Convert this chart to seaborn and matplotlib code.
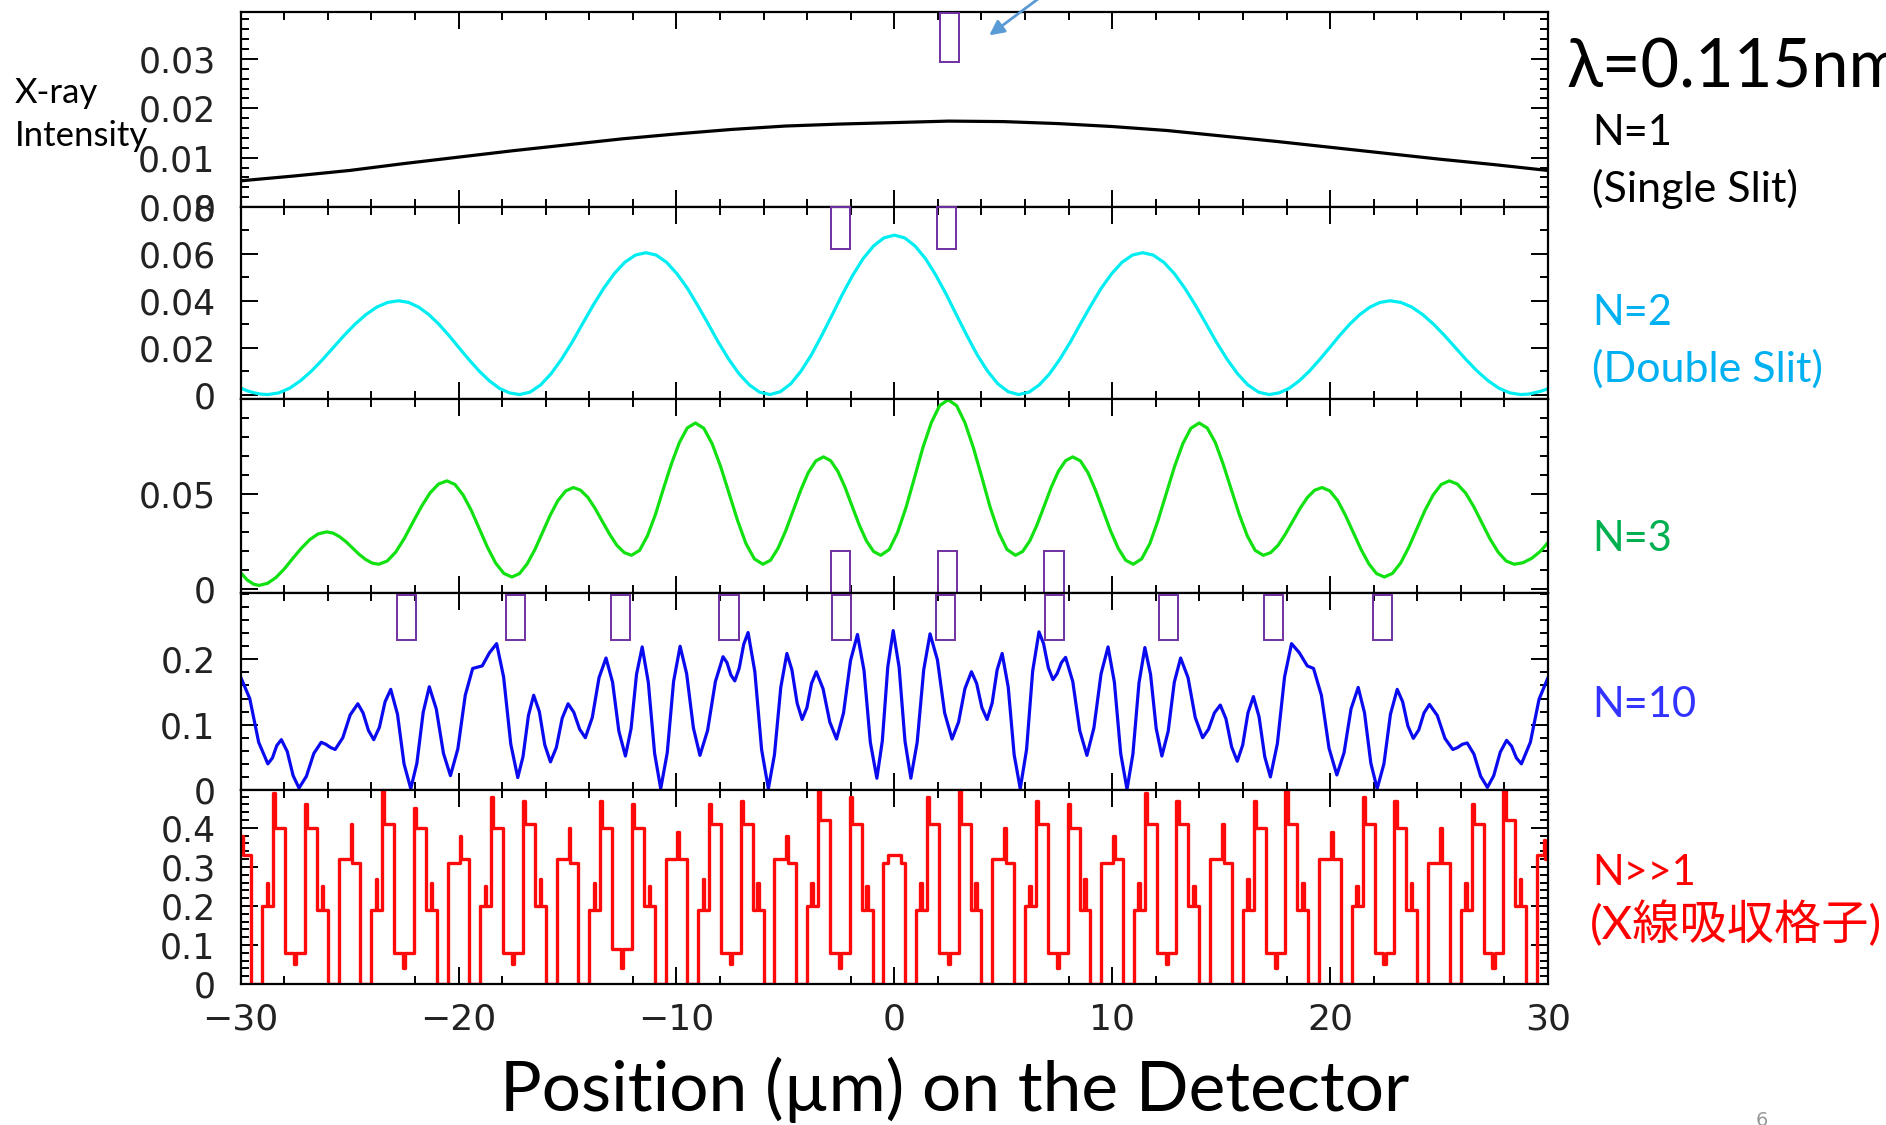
import numpy as np
import pandas as pd
import seaborn as sns
import matplotlib.pyplot as plt
import matplotlib.transforms as mtransforms
from matplotlib.patches import Rectangle
from matplotlib.ticker import MultipleLocator, FixedLocator, FuncFormatter

# ---- data (x in um, y = intensity) ----
n1_x = [-30, -27.5, -25, -22.5, -20, -17.5, -15, -12.5, -10, -7.5, -5, -2.5, 0, 2.5,
        5, 7.5, 10, 12.5, 15, 17.5, 20, 22.5, 25, 27.5, 30]
n1_y = [0.0053, 0.0063, 0.0074, 0.0088, 0.0101, 0.0114, 0.0126, 0.0138, 0.0148, 0.0157,
        0.0164, 0.0168, 0.0171, 0.0174, 0.0173, 0.0169, 0.0163, 0.0155, 0.0144, 0.0133,
        0.0121, 0.0109, 0.0097, 0.0086, 0.0074]

n2_pts = [
    (-30.00, 0.0028), (-29.70, 0.0016), (-29.40, 0.0008), (-29.10, 0.0002), (-28.75, 0.0000),
    (-28.25, 0.0007), (-27.75, 0.0027), (-27.25, 0.0059), (-26.75, 0.0100), (-26.25, 0.0148), (-25.75, 0.0200),
    (-25.25, 0.0252), (-24.75, 0.0300), (-24.25, 0.0341), (-23.75, 0.0373), (-23.25, 0.0393), (-22.75, 0.0400),
    (-22.29, 0.0393), (-21.83, 0.0373), (-21.36, 0.0341), (-20.90, 0.0300), (-20.44, 0.0252), (-19.98, 0.0200),
    (-19.51, 0.0148), (-19.05, 0.0100), (-18.59, 0.0059), (-18.13, 0.0027), (-17.66, 0.0007), (-17.20, 0.0000),
    (-16.72, 0.0010), (-16.23, 0.0041), (-15.75, 0.0089), (-15.27, 0.0151), (-14.78, 0.0224), (-14.30, 0.0303),
    (-13.82, 0.0381), (-13.33, 0.0454), (-12.85, 0.0516), (-12.37, 0.0564), (-11.88, 0.0595), (-11.40, 0.0605),
    (-10.93, 0.0595), (-10.45, 0.0564), (-9.98, 0.0516), (-9.50, 0.0454), (-9.03, 0.0381), (-8.55, 0.0303),
    (-8.08, 0.0224), (-7.60, 0.0151), (-7.13, 0.0089), (-6.65, 0.0041), (-6.18, 0.0010), (-5.70, 0.0000),
    (-5.23, 0.0012), (-4.75, 0.0046), (-4.28, 0.0100), (-3.80, 0.0170), (-3.33, 0.0252), (-2.85, 0.0340),
    (-2.38, 0.0428), (-1.90, 0.0510), (-1.43, 0.0580), (-0.95, 0.0634), (-0.48, 0.0668), (0.00, 0.0680),
    (0.48, 0.0668), (0.95, 0.0634), (1.43, 0.0580), (1.90, 0.0510), (2.38, 0.0428), (2.85, 0.0340),
    (3.33, 0.0252), (3.80, 0.0170), (4.28, 0.0100), (4.75, 0.0046), (5.23, 0.0012), (5.70, 0.0000),
    (6.18, 0.0010), (6.65, 0.0041), (7.13, 0.0089), (7.60, 0.0151), (8.08, 0.0224), (8.55, 0.0303),
    (9.03, 0.0381), (9.50, 0.0454), (9.98, 0.0516), (10.45, 0.0564), (10.93, 0.0595), (11.40, 0.0605),
    (11.88, 0.0595), (12.37, 0.0564), (12.85, 0.0516), (13.33, 0.0454), (13.82, 0.0381), (14.30, 0.0303),
    (14.78, 0.0224), (15.27, 0.0151), (15.75, 0.0089), (16.23, 0.0041), (16.72, 0.0010), (17.20, 0.0000),
    (17.66, 0.0007), (18.13, 0.0027), (18.59, 0.0059), (19.05, 0.0100), (19.51, 0.0148), (19.98, 0.0200),
    (20.44, 0.0252), (20.90, 0.0300), (21.36, 0.0341), (21.83, 0.0373), (22.29, 0.0393), (22.75, 0.0400),
    (23.25, 0.0393), (23.75, 0.0373), (24.25, 0.0341), (24.75, 0.0300), (25.25, 0.0252), (25.75, 0.0200),
    (26.25, 0.0148), (26.75, 0.0100), (27.25, 0.0059), (27.75, 0.0027), (28.25, 0.0007), (28.75, 0.0000),
    (29.10, 0.0002), (29.40, 0.0008), (29.70, 0.0015), (30.00, 0.0025),
]

n3_pts = [
    (-30.00, 0.0088), (-29.70, 0.0050), (-29.40, 0.0027), (-29.15, 0.0021),
    (-28.76, 0.0032), (-28.38, 0.0062), (-27.99, 0.0108), (-27.61, 0.0162), (-27.22, 0.0215), (-26.83, 0.0261), (-26.45, 0.0291), (-26.06, 0.0302),
    (-25.76, 0.0296), (-25.46, 0.0277), (-25.16, 0.0250), (-24.86, 0.0217), (-24.56, 0.0184), (-24.26, 0.0157), (-23.96, 0.0138), (-23.66, 0.0132),
    (-23.27, 0.0149), (-22.88, 0.0196), (-22.49, 0.0267), (-22.10, 0.0351), (-21.70, 0.0435), (-21.31, 0.0506), (-20.92, 0.0553), (-20.53, 0.0570),
    (-20.16, 0.0551), (-19.79, 0.0496), (-19.41, 0.0414), (-19.04, 0.0318), (-18.67, 0.0221), (-18.30, 0.0139), (-17.92, 0.0084), (-17.55, 0.0065),
    (-17.20, 0.0083), (-16.85, 0.0134), (-16.49, 0.0210), (-16.14, 0.0300), (-15.79, 0.0390), (-15.44, 0.0466), (-15.08, 0.0517), (-14.73, 0.0535),
    (-14.40, 0.0521), (-14.06, 0.0483), (-13.73, 0.0425), (-13.40, 0.0357), (-13.06, 0.0289), (-12.73, 0.0231), (-12.39, 0.0193), (-12.06, 0.0179),
    (-11.69, 0.0205), (-11.33, 0.0281), (-10.96, 0.0394), (-10.60, 0.0527), (-10.23, 0.0659), (-9.86, 0.0772), (-9.50, 0.0848), (-9.13, 0.0874),
    (-8.74, 0.0846), (-8.36, 0.0765), (-7.97, 0.0645), (-7.58, 0.0503), (-7.19, 0.0361), (-6.81, 0.0241), (-6.42, 0.0160), (-6.03, 0.0132),
    (-5.68, 0.0153), (-5.34, 0.0215), (-4.99, 0.0306), (-4.64, 0.0414), (-4.29, 0.0522), (-3.95, 0.0613), (-3.60, 0.0675), (-3.25, 0.0696),
    (-2.92, 0.0676), (-2.59, 0.0620), (-2.26, 0.0536), (-1.94, 0.0438), (-1.61, 0.0339), (-1.28, 0.0255), (-0.95, 0.0199), (-0.62, 0.0179),
    (-0.23, 0.0210), (0.15, 0.0299), (0.54, 0.0431), (0.93, 0.0588), (1.31, 0.0744), (1.70, 0.0876), (2.08, 0.0965), (2.47, 0.0996),
    (2.86, 0.0965), (3.24, 0.0876), (3.63, 0.0744), (4.02, 0.0588), (4.40, 0.0431), (4.79, 0.0299), (5.17, 0.0210), (5.56, 0.0179),
    (5.89, 0.0199), (6.22, 0.0255), (6.55, 0.0339), (6.88, 0.0438), (7.20, 0.0536), (7.53, 0.0620), (7.86, 0.0676), (8.19, 0.0696),
    (8.54, 0.0675), (8.89, 0.0613), (9.23, 0.0522), (9.58, 0.0414), (9.93, 0.0306), (10.28, 0.0215), (10.62, 0.0153), (10.97, 0.0132),
    (11.35, 0.0160), (11.73, 0.0241), (12.10, 0.0361), (12.48, 0.0503), (12.86, 0.0645), (13.24, 0.0765), (13.61, 0.0846), (13.99, 0.0874),
    (14.36, 0.0848), (14.73, 0.0772), (15.09, 0.0659), (15.46, 0.0527), (15.83, 0.0394), (16.20, 0.0281), (16.56, 0.0205), (16.93, 0.0179),
    (17.27, 0.0193), (17.61, 0.0231), (17.94, 0.0289), (18.28, 0.0357), (18.62, 0.0425), (18.96, 0.0483), (19.29, 0.0521), (19.63, 0.0535),
    (19.99, 0.0517), (20.35, 0.0466), (20.70, 0.0390), (21.06, 0.0300), (21.42, 0.0210), (21.78, 0.0134), (22.13, 0.0083), (22.49, 0.0065),
    (22.86, 0.0084), (23.24, 0.0139), (23.61, 0.0221), (23.98, 0.0318), (24.35, 0.0414), (24.73, 0.0496), (25.10, 0.0551), (25.47, 0.0570),
    (25.84, 0.0553), (26.22, 0.0506), (26.59, 0.0435), (26.96, 0.0351), (27.33, 0.0267), (27.71, 0.0196), (28.08, 0.0149), (28.45, 0.0132),
    (28.85, 0.0140), (29.25, 0.0163), (29.65, 0.0200), (30.00, 0.0246),
]

n10_pts = [
    (-30.00, 0.173), (-29.58, 0.140), (-29.17, 0.073),
    (-28.75, 0.040), (-28.54, 0.049), (-28.34, 0.068),
    (-28.13, 0.077), (-27.86, 0.059), (-27.59, 0.022),
    (-27.32, 0.003), (-26.98, 0.021), (-26.64, 0.056),
    (-26.30, 0.073), (-26.09, 0.070), (-25.87, 0.065),
    (-25.66, 0.062), (-25.31, 0.080), (-24.97, 0.115),
    (-24.62, 0.132), (-24.38, 0.118), (-24.13, 0.091),
    (-23.89, 0.077), (-23.63, 0.096), (-23.37, 0.135),
    (-23.11, 0.154), (-22.80, 0.116), (-22.50, 0.040),
    (-22.19, 0.002), (-21.91, 0.041), (-21.62, 0.119),
    (-21.34, 0.158), (-21.02, 0.124), (-20.69, 0.056),
    (-20.37, 0.022), (-20.03, 0.063), (-19.69, 0.145),
    (-19.35, 0.186), (-18.91, 0.190), (-18.58, 0.210),
    (-18.25, 0.224), (-17.93, 0.173), (-17.60, 0.070),
    (-17.28, 0.019), (-17.04, 0.051), (-16.79, 0.114),
    (-16.55, 0.145), (-16.29, 0.120), (-16.04, 0.069),
    (-15.78, 0.043), (-15.51, 0.065), (-15.24, 0.110),
    (-14.97, 0.132), (-14.71, 0.119), (-14.44, 0.093),
    (-14.18, 0.080), (-13.86, 0.111), (-13.55, 0.172),
    (-13.23, 0.202), (-12.93, 0.165), (-12.64, 0.090),
    (-12.34, 0.052), (-12.08, 0.094), (-11.83, 0.177),
    (-11.57, 0.219), (-11.29, 0.165), (-11.00, 0.056),
    (-10.72, 0.002), (-10.42, 0.057), (-10.13, 0.166),
    (-9.83, 0.220), (-9.53, 0.178), (-9.22, 0.095),
    (-8.92, 0.053), (-8.57, 0.091), (-8.21, 0.166),
    (-7.86, 0.204), (-7.68, 0.195), (-7.50, 0.176),
    (-7.32, 0.167), (-7.12, 0.186), (-6.91, 0.223),
    (-6.71, 0.241), (-6.40, 0.181), (-6.09, 0.062),
    (-5.78, 0.002), (-5.50, 0.054), (-5.21, 0.157),
    (-4.93, 0.209), (-4.70, 0.184), (-4.46, 0.133),
    (-4.23, 0.108), (-4.01, 0.126), (-3.80, 0.163),
    (-3.58, 0.181), (-3.27, 0.155), (-2.96, 0.104),
    (-2.65, 0.078), (-2.33, 0.118), (-2.01, 0.198),
    (-1.69, 0.238), (-1.39, 0.183), (-1.10, 0.073),
    (-0.80, 0.018), (-0.55, 0.075), (-0.30, 0.188),
    (-0.05, 0.244), (0.22, 0.188), (0.49, 0.075),
    (0.76, 0.018), (1.05, 0.073), (1.35, 0.184),
    (1.64, 0.239), (1.98, 0.199), (2.31, 0.118),
    (2.65, 0.078), (2.95, 0.104), (3.24, 0.155),
    (3.54, 0.181), (3.78, 0.163), (4.02, 0.126),
    (4.26, 0.108), (4.49, 0.133), (4.72, 0.184),
    (4.95, 0.209), (5.23, 0.157), (5.50, 0.054),
    (5.78, 0.002), (6.07, 0.062), (6.35, 0.182),
    (6.64, 0.242), (6.85, 0.224), (7.07, 0.187),
    (7.28, 0.169), (7.47, 0.178), (7.67, 0.195),
    (7.86, 0.203), (8.19, 0.166), (8.51, 0.091),
    (8.84, 0.053), (9.16, 0.095), (9.49, 0.178),
    (9.81, 0.219), (10.10, 0.165), (10.39, 0.056),
    (10.68, 0.001), (10.95, 0.055), (11.23, 0.164),
    (11.50, 0.218), (11.76, 0.177), (12.02, 0.094),
    (12.28, 0.052), (12.57, 0.090), (12.85, 0.165),
    (13.14, 0.202), (13.48, 0.172), (13.81, 0.111),
    (14.15, 0.080), (14.42, 0.093), (14.69, 0.118),
    (14.96, 0.130), (15.22, 0.109), (15.48, 0.066),
    (15.74, 0.044), (15.99, 0.069), (16.23, 0.118),
    (16.48, 0.143), (16.74, 0.112), (17.00, 0.051),
    (17.26, 0.020), (17.58, 0.071), (17.91, 0.173),
    (18.23, 0.224), (18.59, 0.210),
    (18.95, 0.190), (19.24, 0.186), (19.60, 0.145), (19.95, 0.064),
    (20.31, 0.023), (20.64, 0.057), (20.96, 0.124),
    (21.29, 0.157), (21.58, 0.118), (21.87, 0.041),
    (22.16, 0.002), (22.47, 0.040), (22.77, 0.116),
    (23.08, 0.154), (23.33, 0.135), (23.57, 0.098),
    (23.82, 0.079), (24.07, 0.092), (24.31, 0.118),
    (24.56, 0.131), (24.92, 0.114), (25.27, 0.079),
    (25.63, 0.062), (25.85, 0.065), (26.07, 0.070),
    (26.29, 0.072), (26.60, 0.055), (26.91, 0.021),
    (27.22, 0.004), (27.51, 0.022), (27.81, 0.058),
    (28.10, 0.076), (28.33, 0.067), (28.55, 0.049),
    (28.78, 0.040), (29.19, 0.073), (29.59, 0.139),
    (30.00, 0.172),
]

# grating (N>>1): step start x and level, one row per 5 um period
grating_steps = [
    (-30.00, 0.34), (-29.95, 0.38), (-29.88, 0.33), (-29.50, 0.00), (-29.00, 0.20), (-28.80, 0.26), (-28.74, 0.20), (-28.50, 0.49), (-28.40, 0.40), (-27.95, 0.08), (-27.55, 0.05), (-27.45, 0.08), (-27.05, 0.46), (-26.95, 0.40), (-26.50, 0.19), (-26.28, 0.25), (-26.22, 0.19), (-26.00, 0.00),
    (-25.50, 0.32), (-24.95, 0.41), (-24.88, 0.31), (-24.50, 0.00), (-24.00, 0.19), (-23.80, 0.27), (-23.74, 0.19), (-23.50, 0.50), (-23.40, 0.41), (-22.95, 0.08), (-22.55, 0.04), (-22.45, 0.08), (-22.05, 0.45), (-21.95, 0.40), (-21.50, 0.19), (-21.28, 0.26), (-21.22, 0.19), (-21.00, 0.00),
    (-20.50, 0.31), (-19.95, 0.38), (-19.88, 0.32), (-19.50, 0.00), (-19.00, 0.20), (-18.80, 0.25), (-18.74, 0.20), (-18.50, 0.48), (-18.40, 0.40), (-17.95, 0.08), (-17.55, 0.05), (-17.45, 0.08), (-17.05, 0.47), (-16.95, 0.41), (-16.50, 0.20), (-16.28, 0.27), (-16.22, 0.20), (-16.00, 0.00),
    (-15.50, 0.32), (-14.95, 0.40), (-14.88, 0.31), (-14.50, 0.00), (-14.00, 0.19), (-13.80, 0.26), (-13.74, 0.19), (-13.50, 0.47), (-13.40, 0.40), (-12.95, 0.09), (-12.55, 0.04), (-12.45, 0.09), (-12.05, 0.46), (-11.95, 0.40), (-11.50, 0.20), (-11.28, 0.25), (-11.22, 0.20), (-11.00, 0.00),
    (-10.50, 0.32), (-9.95, 0.39), (-9.88, 0.32), (-9.50, 0.00), (-9.00, 0.19), (-8.80, 0.27), (-8.74, 0.19), (-8.50, 0.46), (-8.40, 0.41), (-7.95, 0.08), (-7.55, 0.05), (-7.45, 0.08), (-7.05, 0.47), (-6.95, 0.41), (-6.50, 0.19), (-6.28, 0.26), (-6.22, 0.19), (-6.00, 0.00),
    (-5.50, 0.32), (-4.95, 0.38), (-4.88, 0.31), (-4.50, 0.00), (-4.00, 0.20), (-3.80, 0.26), (-3.74, 0.20), (-3.50, 0.50), (-3.40, 0.42), (-2.95, 0.08), (-2.55, 0.04), (-2.45, 0.08), (-2.05, 0.48), (-1.95, 0.41), (-1.50, 0.19), (-1.28, 0.25), (-1.22, 0.19), (-1.00, 0.00),
    (-0.50, 0.31), (-0.30, 0.33), (0.30, 0.31), (0.50, 0.00), (1.00, 0.19), (1.20, 0.26), (1.26, 0.19), (1.50, 0.48), (1.60, 0.41), (2.05, 0.08), (2.45, 0.05), (2.55, 0.08), (2.95, 0.50), (3.05, 0.41), (3.50, 0.19), (3.72, 0.26), (3.78, 0.19), (4.00, 0.00),
    (4.50, 0.32), (5.05, 0.40), (5.12, 0.31), (5.50, 0.00), (6.00, 0.20), (6.20, 0.25), (6.26, 0.20), (6.50, 0.47), (6.60, 0.41), (7.05, 0.08), (7.45, 0.04), (7.55, 0.08), (7.95, 0.46), (8.05, 0.40), (8.50, 0.19), (8.72, 0.27), (8.78, 0.19), (9.00, 0.00),
    (9.50, 0.31), (10.05, 0.38), (10.12, 0.32), (10.50, 0.00), (11.00, 0.19), (11.20, 0.26), (11.26, 0.19), (11.50, 0.49), (11.60, 0.41), (12.05, 0.08), (12.45, 0.05), (12.55, 0.08), (12.95, 0.47), (13.05, 0.41), (13.50, 0.20), (13.72, 0.25), (13.78, 0.20), (14.00, 0.00),
    (14.50, 0.32), (15.05, 0.41), (15.12, 0.31), (15.50, 0.00), (16.00, 0.19), (16.20, 0.27), (16.26, 0.19), (16.50, 0.47), (16.60, 0.40), (17.05, 0.08), (17.45, 0.04), (17.55, 0.08), (17.95, 0.50), (18.05, 0.41), (18.50, 0.19), (18.72, 0.26), (18.78, 0.19), (19.00, 0.00),
    (19.50, 0.32), (20.05, 0.39), (20.12, 0.32), (20.50, 0.00), (21.00, 0.20), (21.20, 0.25), (21.26, 0.20), (21.50, 0.48), (21.60, 0.41), (22.05, 0.08), (22.45, 0.05), (22.55, 0.08), (22.95, 0.47), (23.05, 0.40), (23.50, 0.19), (23.72, 0.26), (23.78, 0.19), (24.00, 0.00),
    (24.50, 0.31), (25.05, 0.40), (25.12, 0.31), (25.50, 0.00), (26.00, 0.19), (26.20, 0.26), (26.26, 0.19), (26.50, 0.46), (26.60, 0.41), (27.05, 0.08), (27.45, 0.04), (27.55, 0.08), (27.95, 0.50), (28.05, 0.42), (28.50, 0.20), (28.72, 0.27), (28.78, 0.20), (29.00, 0.00),
    (29.50, 0.33), (29.80, 0.37), (29.86, 0.32), (30.00, 0.32),
]

# purple marker boxes (left edge in um)
box_p1_x = [2.08]
box_p2_x = [-2.92, 1.94]
box_p3_x = [-2.92, 1.99, 6.89]
box_p4_x = [-22.83, -17.84, -13.01, -8.05, -2.87, 1.90, 6.90, 12.13, 16.95, 21.95]

n2_x = [p[0] for p in n2_pts]
n2_y = [p[1] for p in n2_pts]
n3_x = [p[0] for p in n3_pts]
n3_y = [p[1] for p in n3_pts]
n10_x = [p[0] for p in n10_pts]
n10_y = [p[1] for p in n10_pts]
gr_x = [p[0] for p in grating_steps]
gr_y = [p[1] for p in grating_steps]

sns.set_theme(style="ticks")
plt.rcParams['font.family'] = ['DejaVu Sans']
side_font = ['Lato', 'DejaVu Sans']

W, H = 1886, 1125
fig = plt.figure(figsize=(W / 100, H / 100), dpi=100)
fig.patch.set_facecolor('white')

left, right = 240.6, 1548
edges = [12, 207, 399, 593, 790, 984]
axes = []
for i in range(5):
    ax = fig.add_axes([left / W, 1 - edges[i + 1] / H, (right - left) / W, (edges[i + 1] - edges[i]) / H])
    axes.append(ax)


def style_axis(ax, ylim, yticks, yminor, show_x):
    ax.set_facecolor('white')
    ax.set_xlim(-30, 30)
    ax.set_ylim(*ylim)
    ax.xaxis.set_major_locator(MultipleLocator(10))
    ax.xaxis.set_minor_locator(MultipleLocator(2))
    ax.yaxis.set_major_locator(FixedLocator(yticks))
    ax.yaxis.set_minor_locator(MultipleLocator(yminor))
    ax.yaxis.set_major_formatter(FuncFormatter(lambda v, p: '%g' % v))
    ax.tick_params(which='both', direction='in', top=True, right=True, width=1.4, color='black')
    ax.tick_params(which='major', length=12)
    ax.tick_params(which='minor', length=6)
    ax.tick_params(axis='y', labelsize=25, pad=18, labelcolor='#222222')
    ax.tick_params(axis='x', labelsize=26, pad=13, labelbottom=show_x, labelcolor='#222222')
    for s in ax.spines.values():
        s.set_linewidth(1.6)
        s.set_color('black')
    ax.set_xlabel('')
    ax.set_ylabel('')
    ax.grid(False)


ax1, ax2, ax3, ax4, ax5 = axes
sns.lineplot(x=n1_x, y=n1_y, ax=ax1, color='black', linewidth=2.3, estimator=None, sort=False)
sns.lineplot(x=n2_x, y=n2_y, ax=ax2, color='#00EEF2', linewidth=2.3, estimator=None, sort=False)
sns.lineplot(x=n3_x, y=n3_y, ax=ax3, color='#11E011', linewidth=2.3, estimator=None, sort=False)
sns.lineplot(x=n10_x, y=n10_y, ax=ax4, color='#0A0AF0', linewidth=2.3, estimator=None, sort=False)
sns.lineplot(x=gr_x, y=gr_y, ax=ax5, color='#FF0A0A', linewidth=2.4, estimator=None, sort=False,
             drawstyle='steps-post')

style_axis(ax1, (0, 0.0395), [0, 0.01, 0.02, 0.03], 0.002, False)
style_axis(ax2, (-0.0019, 0.08), [0, 0.02, 0.04, 0.06, 0.08], 0.01, False)
style_axis(ax3, (-0.0019, 0.1), [0, 0.05], 0.01, False)
style_axis(ax4, (0, 0.3015), [0, 0.1, 0.2], 0.02, False)
style_axis(ax5, (0, 0.497), [0, 0.1, 0.2, 0.3, 0.4], 0.02, True)

# purple boxes
box_color = '#7030A0'
for ax, xs, (y0, y1) in [(ax1, box_p1_x, (0.744, 0.995)), (ax2, box_p2_x, (0.781, 1.0)),
                         (ax3, box_p3_x, (-0.01, 0.216)), (ax4, box_p4_x, (0.761, 0.99))]:
    tr = mtransforms.blended_transform_factory(ax.transData, ax.transAxes)
    for x0 in xs:
        ax.add_patch(Rectangle((x0, y0), 0.9, y1 - y0, transform=tr, fill=False,
                               edgecolor=box_color, linewidth=1.4, clip_on=False, zorder=5))

# blue arrow at top
ax1.annotate('', xy=(987 / W, 1 - 37 / H), xytext=(1042 / W, 1 + 4 / H),
             xycoords='figure fraction', textcoords='figure fraction', annotation_clip=False,
             arrowprops=dict(arrowstyle='-|>', color='#5B9BD5', lw=2, mutation_scale=22))


# texts
def ftext(x, y, s, size, color='black', family=side_font, **kw):
    fig.text(x / W, 1 - y / H, s, fontsize=size, color=color, family=family, va='baseline', ha='left', **kw)


ftext(15, 103, 'X-ray', 25)
ftext(15, 146, 'Intensity', 25)
ftext(1567, 87, 'λ=0.115nm', 48)
ftext(1592, 145, 'N=1', 30)
ftext(1592, 202, '(Single Slit)', 31)
ftext(1592, 325, 'N=2', 30, '#00B0F0')
ftext(1592, 382, '(Double Slit)', 31, '#00B0F0')
ftext(1592, 551, 'N=3', 30, '#00B050')
ftext(1592, 717, 'N=10', 30, '#3333FF')
ftext(1592, 885, 'N>>1', 30, '#FF0000')
ftext(1590, 939, '(X線吸収格子)', 34, '#FF0000', family=['Lato', 'Noto Sans CJK JP'])
fig.text(955 / W, 1 - 1111 / H, 'Position (µm) on the Detector', fontsize=50, family=side_font,
         ha='center', va='baseline', color='black')
fig.text(1756 / W, 1 - 1121 / H, '6', fontsize=14, color='#999999', ha='left', va='center')

fig.savefig('out.png', dpi=100)
